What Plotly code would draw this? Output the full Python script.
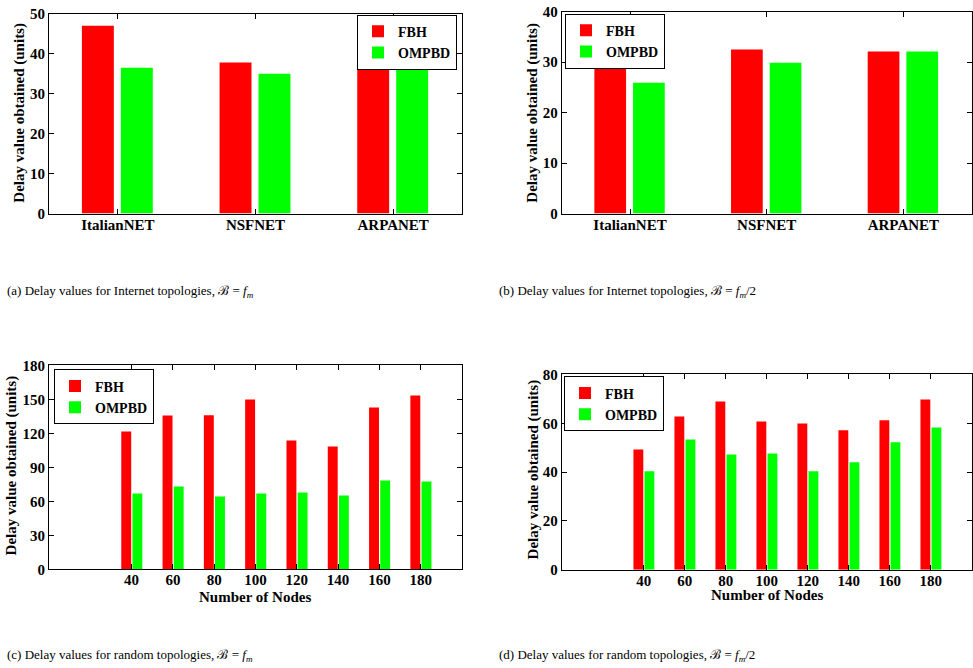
import plotly.graph_objects as go

# ---------------- data ----------------
topologies = ["ItalianNET", "NSFNET", "ARPANET"]
fbh_a = [47.0, 37.8, 36.0]
ompbd_a = [36.5, 35.0, 36.0]
fbh_b = [29.7, 32.5, 32.1]
ompbd_b = [25.9, 29.9, 32.1]

nodes = [40, 60, 80, 100, 120, 140, 160, 180]
fbh_c = [121.8, 135.9, 136.0, 150.0, 113.8, 108.5, 142.9, 153.5]
ompbd_c = [67.1, 73.2, 64.4, 67.1, 67.9, 65.3, 78.5, 77.6]
fbh_d = [49.3, 62.8, 68.9, 60.75, 59.9, 57.1, 61.2, 69.8]
ompbd_d = [40.3, 53.4, 47.2, 47.6, 40.3, 44.0, 52.2, 58.3]

yticks_a = [0, 10, 20, 30, 40, 50]
yticks_b = [0, 10, 20, 30, 40]
yticks_c = [0, 30, 60, 90, 120, 150, 180]
yticks_d = [0, 20, 40, 60, 80]

captions = [
    "(a) Delay values for Internet topologies, ℬ = <i>f</i><sub><i>m</i></sub>",
    "(b) Delay values for Internet topologies, ℬ = <i>f</i><sub><i>m</i></sub>/2",
    "(c) Delay values for random topologies, ℬ = <i>f</i><sub><i>m</i></sub>",
    "(d) Delay values for random topologies, ℬ = <i>f</i><sub><i>m</i></sub>/2",
]

RED = "#FF0000"
GREEN = "#00FF00"
FONT = '"Liberation Serif", "Times New Roman", Times, serif'
W, H = 973, 668

# vertical calibration of the rendered page (observed: shown = 0.9766*set + 7.3)
VS, VO = 0.9766, 7.3


def px(x):
    return x / W


def py(y):
    return 1 - ((y - VO) / VS) / H


fig = go.Figure()

# panel geometry in pixels (left, right, top, bottom)
panels = {
    "1": (49, 462, 13, 213),
    "2": (561.7, 971.7, 11, 213),
    "3": (49, 462, 365, 569),
    "4": (561.7, 971.7, 374, 569.3),
}

cat_w, cat_off_f, cat_off_o = 0.232, -0.261, 0.022
num_w, num_off_f, num_off_o = 4.8, -5.0, 0.4

specs = [
    ("1", topologies, fbh_a, ompbd_a, "legend", cat_w, cat_off_f, cat_off_o),
    ("2", topologies, fbh_b, ompbd_b, "legend2", cat_w, cat_off_f, cat_off_o),
    ("3", nodes, fbh_c, ompbd_c, "legend3", num_w, num_off_f, num_off_o),
    ("4", nodes, fbh_d, ompbd_d, "legend4", num_w, num_off_f, num_off_o),
]

for k, xs, f, o, leg, w, of, oo in specs:
    xa = "x" if k == "1" else "x" + k
    ya = "y" if k == "1" else "y" + k
    fig.add_trace(go.Bar(x=xs, y=f, name="FBH", marker_color=RED, marker_line_width=0,
                         width=w, offset=of, xaxis=xa, yaxis=ya, legend=leg))
    fig.add_trace(go.Bar(x=xs, y=o, name="OMPBD", marker_color=GREEN, marker_line_width=0,
                         width=w, offset=oo, xaxis=xa, yaxis=ya, legend=leg))

tickfont_x = dict(family=FONT, size=15, color="black", weight="bold")
tickfont_y = dict(family=FONT, size=15, color="black", weight="bold")

common_axis = dict(showline=True, linecolor="black", linewidth=1, mirror="ticks",
                   ticks="inside", ticklen=5, tickwidth=1, tickcolor="black",
                   showgrid=False, zeroline=False)

layout = dict(width=W, height=H, margin=dict(l=0, r=0, t=0, b=0),
              paper_bgcolor="white", plot_bgcolor="white", barmode="group",
              font=dict(family=FONT, color="black"))

yticks = {"1": yticks_a, "2": yticks_b, "3": yticks_c, "4": yticks_d}
for k, (l, r, t, b) in panels.items():
    xn = "xaxis" if k == "1" else "xaxis" + k
    yn = "yaxis" if k == "1" else "yaxis" + k
    anchor_x = "y" if k == "1" else "y" + k
    anchor_y = "x" if k == "1" else "x" + k
    xa = dict(common_axis, domain=[px(l), px(r)], anchor=anchor_x, tickfont=tickfont_x,
              ticklabelstandoff=-3)
    if k in ("1", "2"):
        xa.update(type="category", range=[-0.5, 2.5])
    else:
        xa.update(range=[0, 200], tickvals=nodes)
    ya = dict(common_axis, domain=[py(b), py(t)], anchor=anchor_y, tickfont=tickfont_y,
              range=[yticks[k][0], yticks[k][-1]], tickvals=yticks[k])
    layout[xn] = xa
    layout[yn] = ya

leg_common = dict(bgcolor="white", bordercolor="black", borderwidth=1,
                  font=dict(family=FONT, size=14, color="black", weight="bold"),
                  yanchor="top", itemwidth=30, tracegroupgap=0,
                  traceorder="normal")
layout["legend"] = dict(leg_common, x=px(457), xanchor="right", y=py(14))
layout["legend2"] = dict(leg_common, x=px(565), xanchor="left", y=py(13))
layout["legend3"] = dict(leg_common, x=px(54), xanchor="left", y=py(369))
layout["legend4"] = dict(leg_common, x=px(564), xanchor="left", y=py(376))

fig.update_layout(**layout)

title_font = dict(family=FONT, size=15, color="black", weight="bold")
ytitles = [(20, 112), (533, 112), (11, 465), (533, 469)]
for x, y in ytitles:
    fig.add_annotation(text="Delay value obtained (units)", xref="paper", yref="paper",
                       x=px(x), y=py(y), xanchor="center", yanchor="middle",
                       textangle=-90, showarrow=False, font=title_font)
for x, y in [(255.5, 597), (766.7, 595)]:
    fig.add_annotation(text="Number of Nodes", xref="paper", yref="paper",
                       x=px(x), y=py(y), xanchor="center", yanchor="middle",
                       showarrow=False, font=title_font)

cap_font = dict(family=FONT, size=13, color="black")
cap_pos = [(5, 291), (497, 291), (5, 655), (497, 655)]
for txt, (x, y) in zip(captions, cap_pos):
    fig.add_annotation(text=txt, xref="paper", yref="paper", x=px(x), y=py(y),
                       xanchor="left", yanchor="middle", showarrow=False, font=cap_font)

post = (
    "var de=document.documentElement, b=document.body;"
    "de.style.margin='0'; de.style.padding='0'; de.style.overflow='hidden';"
    "de.style.height='668px';"
    "b.style.margin='0'; b.style.padding='0'; b.style.overflow='hidden';"
    "b.style.height='668px'; b.style.width='973px';"
)

fig.write_html("out.html", config={"displayModeBar": False}, post_script=post)
